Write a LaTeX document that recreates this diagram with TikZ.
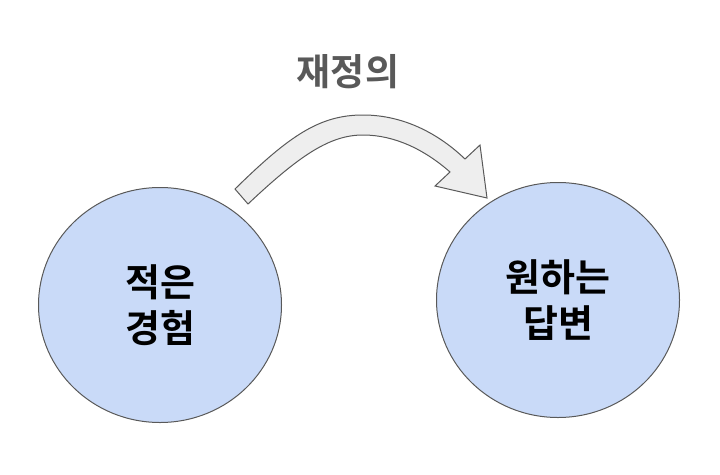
\documentclass[tikz,border=0pt]{standalone}
\usepackage{fontspec}
\newfontfamily\kr{Noto Sans CJK KR Bold}
\definecolor{circfill}{HTML}{C9DAF8}
\definecolor{edge}{HTML}{595959}
\definecolor{arrfill}{HTML}{EEEEEE}
\begin{document}
\begin{tikzpicture}[x=1pt,y=-1pt,
  bubble/.style={draw=edge,line width=1pt,fill=circfill,ellipse,minimum width=243pt,minimum height=235pt,inner sep=0pt,
    align=center,font=\kr\fontsize{38}{46}\selectfont,text=black},
  title/.style={font=\kr\fontsize{37}{44}\selectfont,text=edge},
  blockarrow/.style={draw=edge,line width=1pt,fill=arrfill,line join=miter}]
\useasboundingbox (0,0) rectangle (720,474);
\usetikzlibrary{shapes.geometric}
\node[bubble] (left) at (160,305) {적은\\경험};
\node[bubble] (right) at (558,300) {원하는\\답변};
\node[title] (lbl) at (348,72) {재정의};
\draw[blockarrow] (235,189) .. controls (290,135) and (320,115) .. (363,115)
  .. controls (405,115) and (440,135) .. (465,159)
  -- (480,145) -- (487,198) -- (435,186) -- (450,172)
  .. controls (425,150) and (395,135) .. (363,135)
  .. controls (330,135) and (300,155) .. (248,204) -- cycle;
\end{tikzpicture}
\end{document}
